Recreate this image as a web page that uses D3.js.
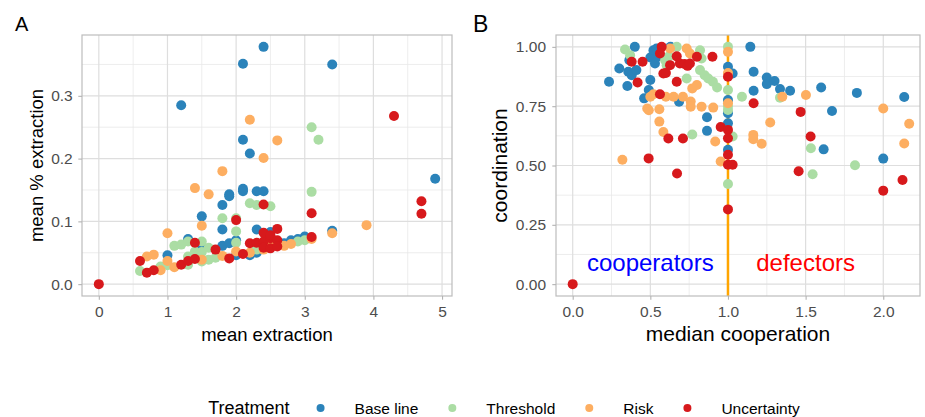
<!DOCTYPE html>
<html>
<head>
<meta charset="utf-8">
<script src="https://cdn.jsdelivr.net/npm/d3@7"></script>
<style>
body{margin:0;background:#fff;}
text{font-family:"Liberation Sans", Arial, Helvetica, sans-serif;}
</style>
</head>
<body>
<svg id="chart" width="925" height="417"></svg>
<script>
// treatments and colours (Spectral)
const treatments = ["Base line", "Threshold", "Risk", "Uncertainty"];
const colors = ["#2B83BA", "#ABDDA4", "#FDAE61", "#D7191C"];

// Panel A: [mean extraction, mean % extraction]
const baseA = [[1.0,0.046],[1.2,0.285],[1.3,0.072],[1.5,0.108],[1.5,0.058],[1.8,0.126],[1.8,0.087],[1.8,0.061],[1.9,0.143],[1.9,0.140],[1.9,0.065],[2.0,0.070],[2.0,0.046],[2.1,0.351],[2.1,0.230],[2.1,0.152],[2.1,0.148],[2.2,0.208],[2.2,0.046],[2.3,0.148],[2.3,0.087],[2.3,0.050],[2.4,0.378],[2.4,0.148],[2.5,0.083],[2.5,0.060],[2.7,0.065],[2.8,0.070],[2.9,0.072],[3.0,0.076],[3.4,0.350],[3.4,0.085],[4.9,0.168]];
const threshA = [[0.6,0.021],[0.9,0.028],[1.0,0.030],[1.1,0.061],[1.2,0.063],[1.3,0.068],[1.3,0.044],[1.3,0.031],[1.4,0.052],[1.5,0.068],[1.5,0.051],[1.5,0.036],[1.6,0.039],[1.6,0.058],[1.7,0.042],[1.8,0.105],[2.0,0.105],[2.0,0.084],[2.0,0.066],[2.2,0.129],[2.3,0.126],[2.3,0.055],[2.5,0.124],[2.6,0.062],[2.9,0.068],[3.0,0.070],[3.1,0.250],[3.2,0.230],[3.1,0.147]];
const riskA = [[0.7,0.044],[0.8,0.047],[0.9,0.022],[1.0,0.081],[1.0,0.037],[1.1,0.027],[1.4,0.153],[1.5,0.093],[1.5,0.039],[1.6,0.143],[1.8,0.180],[1.8,0.045],[2.0,0.052],[2.2,0.050],[2.2,0.262],[2.4,0.201],[2.4,0.055],[2.5,0.062],[2.6,0.229],[2.7,0.061],[2.8,0.064],[3.1,0.072],[3.4,0.081],[3.9,0.094]];
const uncA = [[0,0],[0.6,0.037],[0.7,0.018],[0.8,0.022],[1.2,0.031],[1.3,0.037],[1.4,0.066],[1.4,0.040],[1.7,0.055],[1.9,0.041],[2.0,0.102],[2.1,0.048],[2.2,0.065],[2.3,0.066],[2.4,0.068],[2.4,0.058],[2.4,0.082],[2.4,0.127],[2.5,0.073],[2.5,0.078],[2.5,0.057],[2.6,0.070],[2.6,0.060],[2.6,0.088],[3.1,0.113],[3.1,0.075],[4.3,0.268],[4.7,0.132],[4.7,0.112]];

// Panel B: [median cooperation, coordination]
const baseB = [[0.234,0.853],[0.30,0.909],[0.352,0.835],[0.358,0.895],[0.365,0.944],[0.38,0.88],[0.40,1.0],[0.41,0.902],[0.46,0.783],[0.49,0.818],[0.50,0.86],[0.50,0.955],[0.52,0.986],[0.54,0.993],[0.53,0.93],[0.55,0.96],[0.63,1.0],[0.685,0.769],[0.865,0.703],[0.865,0.646],[1.0,0.916],[1.03,0.888],[1.0,0.776],[1.0,0.72],[1.0,0.678],[1.0,0.566],[1.144,1.0],[1.165,0.895],[1.165,0.815],[1.25,0.871],[1.25,0.843],[1.30,0.856],[1.335,0.822],[1.40,0.815],[1.6,0.829],[1.67,0.73],[1.616,0.568],[1.83,0.806],[2.135,0.789],[2.0,0.529]];
const threshB = [[0.337,0.989],[0.37,0.965],[0.595,0.944],[0.605,0.923],[0.62,0.96],[0.67,1.0],[0.734,0.867],[0.82,0.986],[0.83,0.951],[0.82,0.902],[0.85,0.88],[0.873,0.867],[0.903,0.853],[0.93,0.829],[1.0,1.0],[1.0,0.818],[1.0,0.75],[1.0,0.734],[1.03,0.622],[1.0,0.422],[1.09,0.79],[1.335,0.786],[0.77,0.631],[1.534,0.573],[1.545,0.463],[1.818,0.501]];
const riskB = [[0.32,0.524],[0.48,0.74],[0.49,0.733],[0.5,0.79],[0.52,0.8],[0.558,0.737],[0.558,0.685],[0.584,0.641],[0.6,0.79],[0.65,0.79],[0.71,0.79],[0.76,0.77],[0.76,0.748],[0.77,0.825],[0.80,0.839],[0.83,0.748],[0.905,0.744],[0.918,0.601],[0.953,0.517],[1.0,0.979],[0.627,0.993],[0.734,0.993],[0.755,0.972],[1.0,0.762],[1.0,0.89],[1.163,0.629],[1.163,0.611],[1.217,0.592],[1.272,0.681],[1.35,0.79],[1.502,0.797],[2.0,0.74],[2.167,0.676],[2.135,0.593]];
const uncB = [[0,0],[0.38,0.937],[0.418,0.85],[0.45,0.937],[0.489,0.53],[0.562,0.8],[0.573,1.0],[0.562,0.972],[0.584,0.888],[0.6,0.89],[0.616,0.614],[0.627,0.923],[0.67,0.853],[0.672,0.466],[0.67,0.96],[0.69,0.93],[0.72,0.928],[0.74,0.92],[0.755,0.93],[0.71,0.614],[0.80,0.958],[0.9,0.958],[0.953,0.662],[1.0,0.874],[1.0,0.65],[1.0,0.615],[1.0,0.545],[1.0,0.503],[1.03,0.503],[1.0,0.315],[1.165,0.762],[1.468,0.726],[1.532,0.622],[1.455,0.476],[2.0,0.394],[2.124,0.439]];

// ticks
const xTicksA = [0, 1, 2, 3, 4, 5];
const yTicksA = [0, 0.1, 0.2, 0.3];
const xTicksB = [0, 0.5, 1, 1.5, 2];
const yTicksB = [0, 0.25, 0.5, 0.75, 1];

const svg = d3.select('#chart');

function panel(o){
    const g = svg.append('g');
    const x = d3.scaleLinear().domain(o.xdom).range([o.left, o.right]);
    const y = d3.scaleLinear().domain(o.ydom).range([o.bottom, o.top]);

    // minor grid
    const xm = [], ym = [];
    for(let i = 0; i < o.xticks.length - 1; i++) xm.push((o.xticks[i] + o.xticks[i+1]) / 2);
    for(let i = 0; i < o.yticks.length - 1; i++) ym.push((o.yticks[i] + o.yticks[i+1]) / 2);
    const step = o.yticks[1] - o.yticks[0];
    if(o.yticks[o.yticks.length-1] + step/2 < o.ydom[1]) ym.push(o.yticks[o.yticks.length-1] + step/2);
    g.append('g').selectAll('line').data(xm).join('line')
        .attr('x1', d => x(d)).attr('x2', d => x(d))
        .attr('y1', o.top).attr('y2', o.bottom)
        .attr('stroke', '#E8E8E8').attr('stroke-width', 0.8);
    g.append('g').selectAll('line').data(ym).join('line')
        .attr('y1', d => y(d)).attr('y2', d => y(d))
        .attr('x1', o.left).attr('x2', o.right)
        .attr('stroke', '#E8E8E8').attr('stroke-width', 0.8);
    // major grid
    g.append('g').selectAll('line').data(o.xticks).join('line')
        .attr('x1', d => x(d)).attr('x2', d => x(d))
        .attr('y1', o.top).attr('y2', o.bottom)
        .attr('stroke', '#DEDEDE').attr('stroke-width', 1.2);
    g.append('g').selectAll('line').data(o.yticks).join('line')
        .attr('y1', d => y(d)).attr('y2', d => y(d))
        .attr('x1', o.left).attr('x2', o.right)
        .attr('stroke', '#DEDEDE').attr('stroke-width', 1.2);

    if(o.vline !== undefined){
        g.append('line')
            .attr('x1', x(o.vline)).attr('x2', x(o.vline))
            .attr('y1', o.top).attr('y2', o.bottom)
            .attr('stroke', '#FFA500').attr('stroke-width', 2.5);
    }

    // points
    o.series.forEach((s, i) => {
        g.append('g').selectAll('circle').data(s).join('circle')
            .attr('cx', d => x(d[0])).attr('cy', d => y(d[1]))
            .attr('r', 5).attr('fill', colors[i]);
    });

    // annotations
    (o.notes || []).forEach(n => {
        g.append('text').attr('x', x(n.x)).attr('y', y(n.y))
            .attr('text-anchor', 'middle').attr('dominant-baseline', 'central')
            .attr('font-size', 24).attr('fill', n.color).text(n.text);
    });

    // border
    g.append('rect')
        .attr('x', o.left).attr('y', o.top)
        .attr('width', o.right - o.left).attr('height', o.bottom - o.top)
        .attr('fill', 'none').attr('stroke', '#BDBDBD').attr('stroke-width', 1.2);

    // axes
    const xaxis = d3.axisBottom(x).tickValues(o.xticks).tickFormat(d3.format(o.xfmt))
        .tickSize(3.7).tickPadding(6.5).tickSizeOuter(0);
    const yaxis = d3.axisLeft(y).tickValues(o.yticks).tickFormat(d3.format(o.yfmt))
        .tickSize(3.7).tickPadding(o.ypad).tickSizeOuter(0);
    const xg = g.append('g').attr('transform', `translate(0,${o.bottom})`).call(xaxis);
    const yg = g.append('g').attr('transform', `translate(${o.left},0)`).call(yaxis);
    [xg, yg].forEach(a => {
        a.select('.domain').remove();
        a.selectAll('.tick line').attr('stroke', '#B3B3B3').attr('stroke-width', 1.1);
        a.selectAll('.tick text').attr('fill', '#4D4D4D')
            .attr('font-size', 15.5).attr('font-family', '"Liberation Sans", Arial, sans-serif');
    });

    // axis titles
    g.append('text').attr('x', (o.left + o.right) / 2).attr('y', 340.5)
        .attr('text-anchor', 'middle').attr('font-size', o.titleSize).attr('fill', '#000')
        .text(o.xlab);
    g.append('text')
        .attr('transform', `translate(${o.ylabX},${(o.top + o.bottom) / 2}) rotate(-90)`)
        .attr('text-anchor', 'middle').attr('font-size', o.titleSize).attr('fill', '#000')
        .text(o.ylab);

    // panel tag
    g.append('text').attr('x', o.tagX).attr('y', o.tagY)
        .attr('font-size', o.tagSize).attr('fill', '#000').text(o.tag);
}

panel({
    left: 82, right: 452, top: 35, bottom: 296,
    xdom: [-0.245, 5.145], ydom: [-0.0189, 0.3969],
    xticks: xTicksA, yticks: yTicksA, xfmt: '.0f', yfmt: '.1f', ypad: 5.6,
    series: [baseA, threshA, riskA, uncA],
    xlab: 'mean extraction', ylab: 'mean % extraction', titleSize: 18.5, ylabX: 42.5,
    tag: 'A', tagX: 15, tagY: 31, tagSize: 20
});

panel({
    left: 556, right: 920, top: 35, bottom: 296,
    xdom: [-0.1075, 2.2366], ydom: [-0.05, 1.05],
    xticks: xTicksB, yticks: yTicksB, xfmt: '.1f', yfmt: '.2f', ypad: 6.3,
    series: [baseB, threshB, riskB, uncB],
    vline: 1,
    notes: [{x: 0.5, y: 0.092, text: 'cooperators', color: '#0000FF'},
            {x: 1.5, y: 0.092, text: 'defectors', color: '#FF0000'}],
    xlab: 'median cooperation', ylab: 'coordination', titleSize: 21, ylabX: 506.5,
    tag: 'B', tagX: 473, tagY: 32, tagSize: 23
});

// legend
const leg = svg.append('g');
const legY = 408;
const title = leg.append('text').attr('x', 0).attr('y', legY).attr('dominant-baseline', 'central')
    .attr('font-size', 18).attr('fill', '#000').text('Treatment');
let cx = title.node().getComputedTextLength() + 31;
treatments.forEach((t, i) => {
    leg.append('circle').attr('cx', cx).attr('cy', legY).attr('r', 4).attr('fill', colors[i]);
    const lbl = leg.append('text').attr('x', cx + 34).attr('y', legY).attr('dominant-baseline', 'central')
        .attr('font-size', 15.5).attr('fill', '#000').text(t);
    cx = cx + 34 + lbl.node().getComputedTextLength() + 34;
});
const total = cx - 34;
leg.attr('transform', `translate(${504 - total / 2},0)`);
</script>
</body>
</html>
